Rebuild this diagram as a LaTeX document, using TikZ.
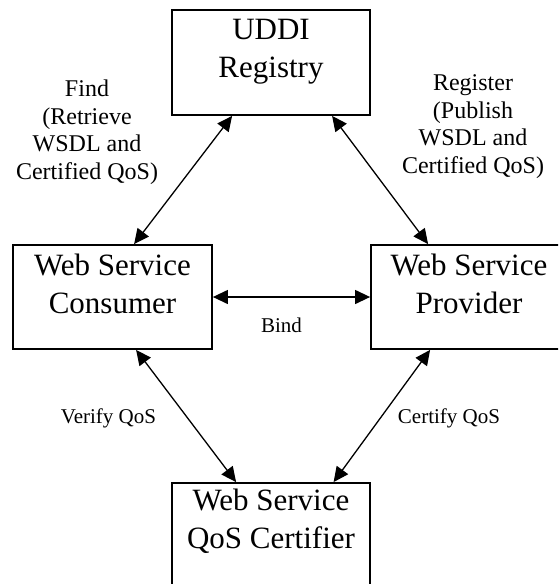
\documentclass[tikz,border=0pt]{standalone}
\usepackage{fontspec}
\setmainfont{Liberation Serif}
\usetikzlibrary{arrows.meta,calc}

\tikzset{
  box/.style={draw, line width=1.8pt, rectangle, inner sep=0pt},
  % multi-line texts are placed by the baseline of their last line
  boxtext/.style={align=center, inner sep=0pt, anchor=base,
    font=\fontsize{31}{37.5}\selectfont},
  lbl/.style={align=center, inner sep=0pt, anchor=base,
    font=\fontsize{24}{27.5}\selectfont},
  smalllbl/.style={inner sep=0pt, anchor=base,
    font=\fontsize{21}{25}\selectfont},
  link/.style={line width=1.3pt, {Triangle[length=15pt,width=14pt]}-{Triangle[length=15pt,width=14pt]}},
}

\begin{document}
\begin{tikzpicture}[x=1pt, y=-1pt]
\useasboundingbox (0,0) rectangle (558,584);
\clip (0,0) rectangle (558,584);
\fill[white] (0,0) rectangle (558,584);

% the four parties
\node[box, minimum width=198pt, minimum height=105pt] (uddi) at (271,62.5) {};
\node[box, minimum width=199pt, minimum height=104pt] (cons) at (112.5,297) {};
\node[box, minimum width=199pt, minimum height=104pt] (prov) at (470.5,297) {};
\node[box, minimum width=198pt, minimum height=105pt] (cert) at (271,535.5) {};

\node[boxtext] (uddiT) at (271,77) {UDDI\\Registry};
\node[boxtext] (consT) at (112.5,313) {Web Service\\Consumer};
\node[boxtext] (provT) at (469,313) {Web Service\\Provider};
\node[boxtext] (certT) at (271,548) {Web Service\\QoS Certifier};

% interactions
\draw[link] ($(uddi.south west)+(61,0)$) -- ($(cons.north west)+(122,0)$);
\draw[link] ($(uddi.south west)+(161,0)$) -- ($(prov.north west)+(58,0)$);
\draw[link] (cons.east) -- (prov.west);
\draw[link] ($(cons.south west)+(124,0)$) -- ($(cert.north west)+(65,0)$);
\draw[link] ($(prov.south west)+(60,0)$) -- ($(cert.north west)+(162.5,0)$);

% labels of the interactions
\node[lbl] (findL) at (87,179) {Find\\(Retrieve\\WSDL and\\Certified QoS)};
\node[lbl] (regL) at (473,173) {Register\\(Publish\\WSDL and\\Certified QoS)};
\node[smalllbl] (bindL) at (281.5,332) {Bind};
\node[smalllbl] (verL) at (108.5,423) {Verify QoS};
\node[smalllbl] (cerL) at (449,423) {Certify QoS};
\end{tikzpicture}
\end{document}
